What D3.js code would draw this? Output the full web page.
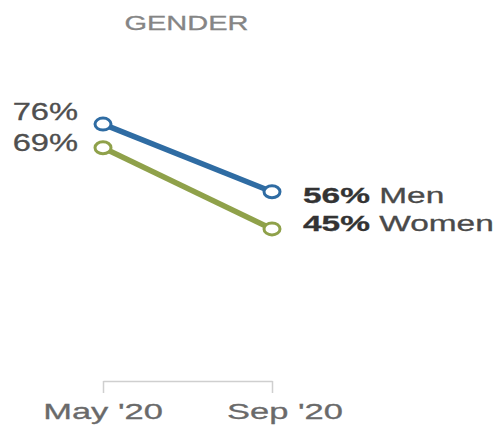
<!DOCTYPE html>
<html><head><meta charset="utf-8">
<script src="https://cdn.jsdelivr.net/npm/d3@7"></script>
<style>body{margin:0;background:#fff;}svg{display:block;}text{font-family:"Liberation Sans",Arial,sans-serif;}</style>
</head><body>
<svg id="c" width="497" height="427"></svg>
<script>
const title = "GENDER";
const periods = ["May '20", "Sep '20"];
const seriesNames = ["Men", "Women"];
const menValues = [76, 56];
const womenValues = [69, 45];
const colors = ["#2f6ca3", "#8fa14a"];

const svg = d3.select("#c");

const x = d3.scalePoint().domain(periods).range([103, 272]);
const y = d3.scaleLinear().domain([0, 100]).range([381, 43]);

function stext(g, px, py, size, anchor, color, sx) {
  return g.append("text")
    .attr("transform", `translate(${px},${py}) scale(${sx},1)`)
    .attr("text-anchor", anchor)
    .attr("font-size", size)
    .attr("fill", color)
    .attr("stroke", color).attr("stroke-width", 0.3);
}

// title
stext(svg, (x.range()[0] + x.range()[1]) / 2 - 1, 30, 20, "middle", "#858585", 1.45).text(title);

// axis bracket
const axisG = svg.append("g").attr("transform", `translate(0,${y(0)})`);
const axis = d3.axisBottom(x).tickSize(12).tickSizeOuter(0).tickFormat("");
axisG.call(axis);
axisG.select(".domain").attr("stroke", "#cfcfcf").attr("stroke-width", 1.5);
axisG.selectAll(".tick line").attr("stroke", "#cfcfcf").attr("stroke-width", 1.5);
// tick labels
const tickDx = [0, 13];
periods.forEach((p, i) => {
  stext(svg, x(p) + tickDx[i], 419, 23, "middle", "#6a6a6a", 1.5).text(p);
});

const series = [
  { name: seriesNames[0], values: menValues, color: colors[0], leftDy: -4, rightDy: 11 },
  { name: seriesNames[1], values: womenValues, color: colors[1], leftDy: 3, rightDy: 2.5 }
];

const line = d3.line().x((d, i) => x(periods[i])).y(d => y(d));

series.forEach(s => {
  svg.append("path").datum(s.values)
    .attr("d", line).attr("fill", "none")
    .attr("stroke", s.color).attr("stroke-width", 5.5);
  svg.selectAll(null).data(s.values).enter().append("ellipse")
    .attr("cx", (d, i) => x(periods[i])).attr("cy", d => y(d))
    .attr("rx", 8).attr("ry", 6)
    .attr("fill", "#fff").attr("stroke", s.color).attr("stroke-width", 3);
  // left label
  stext(svg, 78, y(s.values[0]) + s.leftDy, 23, "end", "#4f4f4f", 1.42).text(s.values[0] + "%");
  // right label
  const t = stext(svg, 303, y(s.values[1]) + s.rightDy, 22, "start", "#333", 1.52);
  t.append("tspan").attr("font-weight", "bold").text(s.values[1] + "%");
  t.append("tspan").attr("fill", "#4a4a4a").attr("stroke", "#4a4a4a").text(" " + s.name);
});
</script>
</body></html>
